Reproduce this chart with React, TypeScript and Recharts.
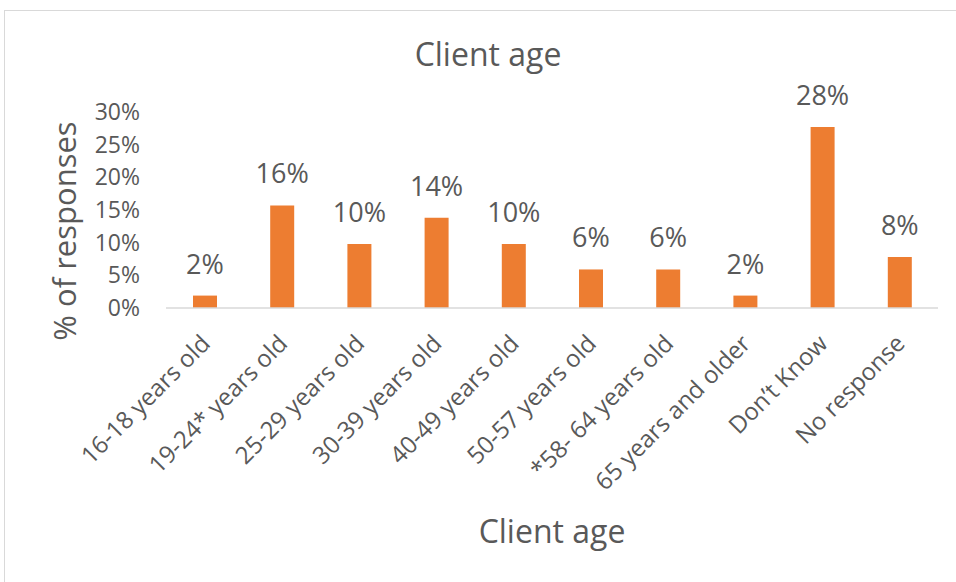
import { BarChart, Bar, XAxis, YAxis, LabelList, Label } from 'recharts'

const categories = [
  '16-18 years old',
  '19-24* years old',
  '25-29 years old',
  '30-39 years old',
  '40-49 years old',
  '50-57 years old',
  '*58- 64 years old',
  '65 years and older',
  'Don’t Know',
  'No response',
]
const shares = [1.9, 15.7, 9.8, 13.8, 9.8, 5.9, 5.9, 1.9, 27.7, 7.8]
const yTicks = [0, 5, 10, 15, 20, 25, 30]

const data = categories.map((label, i) => ({ label, share: shares[i] }))

const FONT = '"Open Sans", sans-serif'
const TEXT = '#595959'

const AngledTick = ({ x, y, payload }: any) => (
  <g transform={`translate(${x + 7},${y + 37})`}>
    <text textAnchor="end" transform="rotate(-45)" fill={TEXT} fontSize={24} fontFamily={FONT}>
      {payload.value}
    </text>
  </g>
)

export default function App() {
  return (
    <div style={{ position: 'absolute', left: 0, top: 0, width: 956, height: 582, overflow: 'hidden', background: '#fff', fontFamily: FONT }}>
      <div
        style={{
          position: 'absolute', left: 4, top: 10, width: 1000, height: 600,
          border: '1px solid #d9d9d9', boxSizing: 'border-box',
        }}
      />
      <div
        style={{
          position: 'absolute', left: 0, top: 33, width: 976, textAlign: 'center',
          fontSize: 32, color: TEXT, lineHeight: '42px',
        }}
      >
        Client age
      </div>
      <div style={{ position: 'absolute', left: 0, top: 0 }}>
        <BarChart width={956} height={582} data={data} margin={{ top: 112, right: 18, left: 0, bottom: 0 }} barSize={24}>
          <XAxis
            dataKey="label"
            height={274}
            interval={0}
            tickLine={false}
            tickSize={0}
            tickMargin={0}
            axisLine={{ stroke: '#d9d9d9', strokeWidth: 1.5 }}
            tick={<AngledTick />}
          >
            <Label value="Client age" position="center" dy={87} fill={TEXT} fontSize={32} fontFamily={FONT} />
          </XAxis>
          <YAxis
            width={166}
            domain={[0, 30]}
            ticks={yTicks}
            axisLine={false}
            tickLine={false}
            tickSize={0}
            tickMargin={26}
            tickFormatter={(v: number) => `${v}%`}
            tick={{ fill: TEXT, fontSize: 23, fontFamily: FONT }}
          >
            <Label value="% of responses" angle={-90} position="center" dx={-18} dy={21} fill={TEXT} fontSize={31} fontFamily={FONT} />
          </YAxis>
          <Bar dataKey="share" fill="#ED7D31" isAnimationActive={false}>
            <LabelList
              dataKey="share"
              position="top"
              offset={22}
              formatter={(v: any) => `${Math.round(Number(v))}%`}
              fill={TEXT}
              fontSize={27}
              fontFamily={FONT}
            />
          </Bar>
        </BarChart>
      </div>
    </div>
  )
}
